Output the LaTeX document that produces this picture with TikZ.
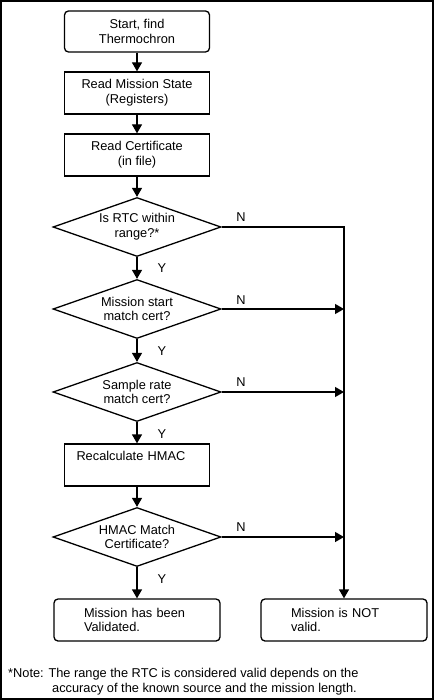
\documentclass[tikz,border=0pt]{standalone}
\usepackage{fontspec}
\setmainfont{Liberation Sans}
\usetikzlibrary{arrows.meta,shapes.geometric}
\tikzset{
  stepbox/.style={draw, line width=1.3pt, minimum width=145pt, minimum height=42pt, inner sep=0pt, align=center},
  endbox/.style={draw, line width=1.3pt, rounded corners=4pt, minimum width=166pt, minimum height=42pt, text width=106pt, inner xsep=30pt, inner ysep=0pt, align=left},
  test/.style={draw, diamond, line width=1.3pt, minimum width=168pt, minimum height=59pt, shape aspect=2.9, inner sep=0pt, align=center},
  flow/.style={line width=1.3pt, -{Triangle[length=9pt,width=10pt]}},
  yn/.style={inner sep=0pt}
}
\begin{document}
\begin{tikzpicture}[x=1pt, y=-1pt, font=\fontsize{12.8}{14.7}\selectfont]
\useasboundingbox (0,0) rectangle (434,700);
\draw[line width=2pt] (1,1) rectangle (433,699);

\node[stepbox, rounded corners=4pt, minimum height=41pt] (start) at (137,31.5) {Start, find\\Thermochron};
\node[stepbox] (mission) at (137,93) {Read Mission State\\(Registers)};
\node[stepbox] (cert) at (137,155) {Read Certificate\\(in file)};
\node[test] (rtc) at (137,227) {Is RTC within\\range?*};
\node[test] (mstart) at (137,309) {Mission start\\match cert?};
\node[test] (rate) at (137,392) {Sample rate\\match cert?};
\node[stepbox, text width=121pt, inner xsep=12pt, align=left] (recalc) at (137,465) {Recalculate HMAC\\\strut};
\node[test] (hmac) at (137,537) {HMAC Match\\Certificate?};
\node[endbox] (valid) at (137,620) {Mission has been\\Validated.};
\node[endbox] (notvalid) at (344,620) {Mission is NOT\\valid.};

\draw[flow] (start) -- (mission);
\draw[flow] (mission) -- (cert);
\draw[flow] (cert) -- (rtc);
\draw[flow] (rtc) -- (mstart);
\draw[flow] (mstart) -- (rate);
\draw[flow] (rate) -- (recalc);
\draw[flow] (recalc) -- (hmac);
\draw[flow] (hmac) -- (valid);
\draw[flow] (rtc.east) -| (notvalid);
\draw[flow] (mstart.east) -- (mstart.east -| notvalid);
\draw[flow] (rate.east) -- (rate.east -| notvalid);
\draw[flow] (hmac.east) -- (hmac.east -| notvalid);

\node[yn] (n1) at (241,217) {N};
\node[yn] (n2) at (241,300) {N};
\node[yn] (n3) at (241,382) {N};
\node[yn] (n4) at (241,527) {N};
\node[yn] (y1) at (162,268) {Y};
\node[yn] (y2) at (162,351) {Y};
\node[yn] (y3) at (162,434) {Y};
\node[yn] (y4) at (162,579) {Y};

\node[inner sep=0pt, anchor=west, align=left] (note) at (8,681.5) {*Note: The range the RTC is considered valid depends on the\\\hspace*{44pt}accuracy of the known source and the mission length.};
\end{tikzpicture}
\end{document}
